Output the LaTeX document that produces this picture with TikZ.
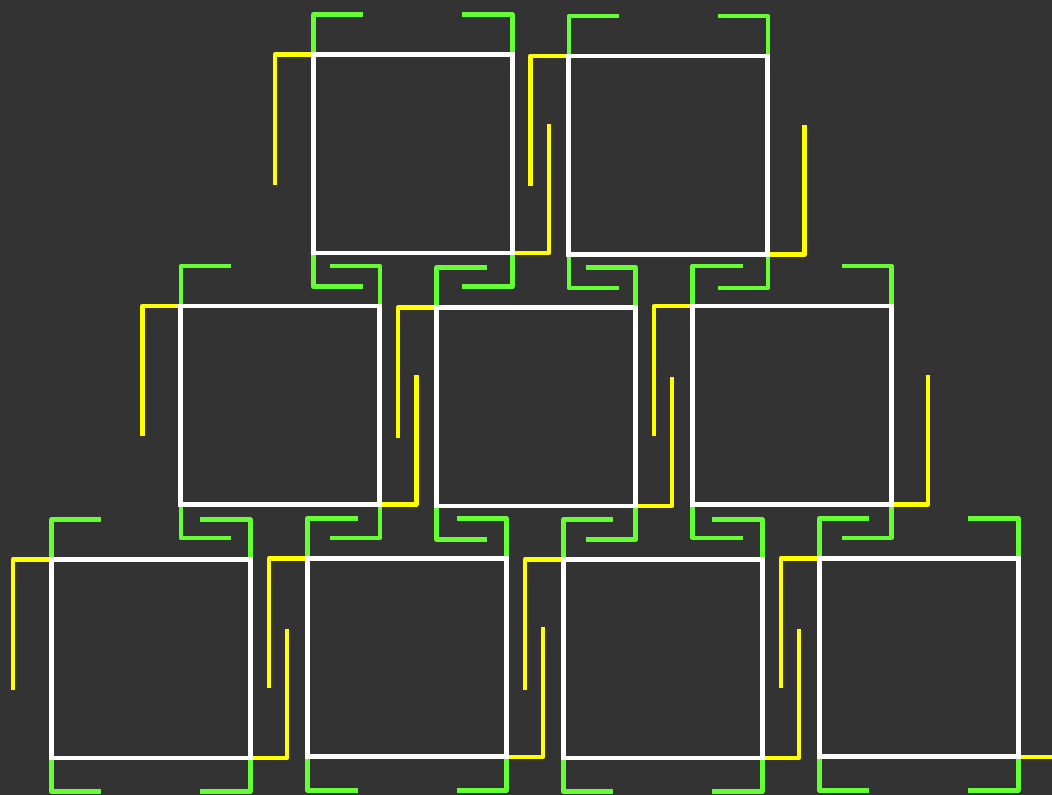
\documentclass[tikz,border=0pt]{standalone}
\usetikzlibrary{calc}
\pgfdeclarelayer{bglayer}
\pgfdeclarelayer{bracketlayer}
\pgfsetlayers{bglayer,bracketlayer,main}
\definecolor{bgcol}{HTML}{333333}
\definecolor{grncol}{HTML}{66FF33}
\definecolor{ylwcol}{HTML}{FFFF00}
\begin{document}
\begin{tikzpicture}[x=1pt,y=-1pt,
  sqbox/.style={rectangle, draw=white, line width=4.8pt, minimum width=199pt,
    minimum height=198.5pt, inner sep=0pt, outer sep=0pt},
  grnline/.style={draw=grncol, line width=4.5pt, line join=round},
  ylwline/.style={draw=ylwcol, line width=4.5pt, line join=round}]
\begin{pgfonlayer}{bglayer}
  \fill[bgcol] (0,0) rectangle (1052,795);
\end{pgfonlayer}
\useasboundingbox (0,0) rectangle (1052,795);
\foreach \n/\x/\y in {1/412.8/153.8, 2/668.3/155.2,
                       3/280.3/405.2, 4/536.2/406.8, 5/792.2/405.2,
                       6/150.8/658.8, 7/407.0/657.5, 8/662.8/658.8, 9/918.8/657.5} {
  \node[sqbox] (s\n) at (\x,\y) {};
}
\begin{pgfonlayer}{bracketlayer}
  \clip (0,0) rectangle (1052,795);
  \foreach \n in {1,...,9} {
    \draw[grnline] (s\n.north west) -- ++(0,-40) -- ++(50,0);
    \draw[grnline] (s\n.north east) -- ++(0,-40) -- ++(-50,0);
    \draw[grnline] (s\n.south west) -- ++(0,33.5) -- ++(50,0);
    \draw[grnline] (s\n.south east) -- ++(0,33.5) -- ++(-50,0);
    \draw[ylwline] (s\n.north west) -- ++(-38.5,0) -- ++(0,130);
    \draw[ylwline] (s\n.south east) -- ++(36.5,0) -- ++(0,-129.5);
  }
\end{pgfonlayer}
\end{tikzpicture}
\end{document}
